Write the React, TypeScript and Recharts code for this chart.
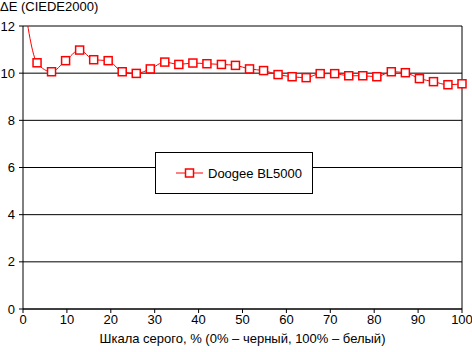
import React from "react";
import {
  LineChart,
  Line,
  XAxis,
  YAxis,
  CartesianGrid,
  ReferenceLine,
  Legend,
} from "recharts";

const grayLevels = [
  0, 3.2, 6.5, 9.7, 12.9, 16.1, 19.4, 22.6, 25.8, 29.0, 32.3, 35.5, 38.7, 41.9,
  45.2, 48.4, 51.6, 54.8, 58.1, 61.3, 64.5, 67.7, 71.0, 74.2, 77.4, 80.6, 83.9,
  87.1, 90.3, 93.5, 96.8, 100,
];
const deltaE = [
  13.3, 10.44, 10.06, 10.53, 10.98, 10.57, 10.53, 10.06, 9.99, 10.18, 10.47,
  10.37, 10.43, 10.4, 10.37, 10.33, 10.18, 10.11, 9.94, 9.85, 9.81, 9.98, 9.98,
  9.89, 9.89, 9.85, 10.06, 10.02, 9.77, 9.64, 9.51, 9.55,
];
const xTicks = [0, 10, 20, 30, 40, 50, 60, 70, 80, 90, 100];
const yTicks = [0, 2, 4, 6, 8, 10, 12];
const seriesName = "Doogee BL5000";
const yTitle = "ΔE (CIEDE2000)";
const xTitle = "Шкала серого, % (0% – черный, 100% – белый)";

const data = grayLevels.map((x, i) => ({ x, v: deltaE[i] }));

const FONT = "'Liberation Sans', Arial, sans-serif";
const RED = "#ff0000";

const SquareDot = (props: any) => {
  const { cx, cy } = props;
  if (cx == null || cy == null) return null;
  return (
    <rect
      x={cx - 4}
      y={cy - 4}
      width={8}
      height={8}
      fill="#fff"
      stroke={RED}
      strokeWidth={1.5}
    />
  );
};

const LegendBox = () => (
  <div
    style={{
      width: 156,
      height: 40,
      border: "1px solid #000",
      background: "#fff",
      display: "flex",
      alignItems: "center",
      fontFamily: FONT,
      fontSize: 13,
      color: "#000",
      whiteSpace: "nowrap",
      boxSizing: "content-box",
    }}
  >
    <svg width={52} height={14} style={{ display: "block", flex: "none" }}>
      <line x1={20} x2={47} y1={7} y2={7} stroke={RED} strokeWidth={1} />
      <rect x={29.5} y={3} width={8} height={8} fill="#fff" stroke={RED} strokeWidth={1.5} />
    </svg>
    <span>{seriesName}</span>
  </div>
);

export default function App() {
  return (
    <div style={{ position: "absolute", left: 0, top: 0, width: 472, height: 352, background: "#fff", overflow: "hidden" }}>
      <div
        style={{
          position: "absolute",
          left: 0,
          top: 0,
          lineHeight: "14px",
          fontFamily: FONT,
          fontSize: 13,
          color: "#000",
          whiteSpace: "nowrap",
        }}
      >
        {yTitle}
      </div>
      <LineChart
        width={472}
        height={352}
        data={data}
        margin={{ top: 26, right: 10, left: 0, bottom: 0 }}
        style={{ fontFamily: FONT }}
      >
        <CartesianGrid horizontal vertical={false} stroke="#000" strokeWidth={1} />
        <XAxis
          dataKey="x"
          type="number"
          domain={[0, 100]}
          ticks={xTicks}
          interval={0}
          height={43}
          tickSize={4}
          tickMargin={2}
          axisLine={{ stroke: "#000" }}
          tickLine={{ stroke: "#000" }}
          tick={{ fill: "#000", fontSize: 13 }}
          label={{ value: xTitle, position: "insideBottom", offset: 9, fill: "#000", fontSize: 13 }}
        />
        <YAxis
          type="number"
          domain={[0, 12]}
          ticks={yTicks}
          allowDataOverflow
          interval={0}
          width={23}
          tickSize={4}
          tickMargin={4}
          axisLine={{ stroke: "#000" }}
          tickLine={{ stroke: "#000" }}
          tick={{ fill: "#000", fontSize: 13 }}
        />
        <ReferenceLine x={100} stroke="#000" strokeWidth={1} ifOverflow="extendDomain" />
        <Legend
          layout="horizontal"
          verticalAlign="middle"
          align="center"
          content={<LegendBox />}
          wrapperStyle={{ position: "absolute", left: 155, top: 152, width: 158, height: 42 }}
        />
        <Line
          type="monotone"
          dataKey="v"
          name={seriesName}
          stroke={RED}
          strokeWidth={1}
          dot={<SquareDot />}
          activeDot={false}
          isAnimationActive={false}
        />
      </LineChart>
    </div>
  );
}
